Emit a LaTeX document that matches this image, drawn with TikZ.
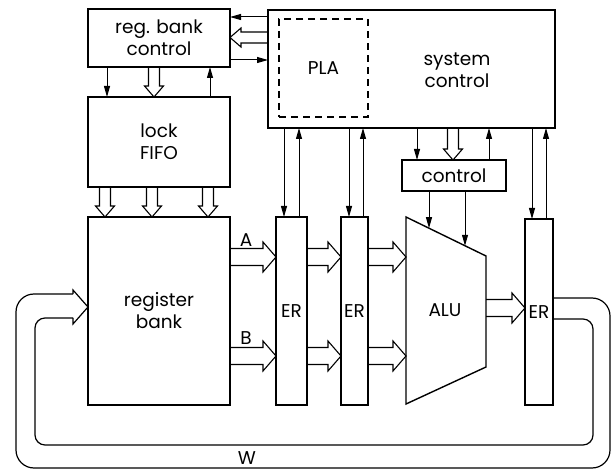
\documentclass[tikz,border=0pt]{standalone}
\usepackage{fontspec}
\setmainfont{Poppins}
\usetikzlibrary{arrows.meta,calc}

\tikzset{
  blk/.style={draw,line width=1.2pt,inner sep=0pt,outer sep=0pt,align=center},
  sig/.style={line width=1pt,-{Triangle[length=11pt,width=6pt]}},
  hollow/.style n args={3}{line width=1.1pt,to path={
     ($(\tikztostart)!#1!90:(\tikztotarget)$)
     -- ($($(\tikztotarget)!#3!(\tikztostart)$)!#1!90:(\tikztotarget)$)
     -- ($($(\tikztotarget)!#3!(\tikztostart)$)!#2!90:(\tikztotarget)$)
     -- (\tikztotarget)
     -- ($($(\tikztotarget)!#3!(\tikztostart)$)!#2!-90:(\tikztotarget)$)
     -- ($($(\tikztotarget)!#3!(\tikztostart)$)!#1!-90:(\tikztotarget)$)
     -- ($(\tikztostart)!#1!-90:(\tikztotarget)$)}},
  bigbus/.style={hollow={8.5pt}{15pt}{13pt}},
  smallbus/.style={hollow={5.5pt}{9.5pt}{11pt}},
}

\begin{document}
\begin{tikzpicture}[x=1pt,y=-1pt,font=\fontsize{18.5}{22}\selectfont]
  \useasboundingbox (0,0) rectangle (611,470);
  % blocks
  \node[blk,minimum width=142pt,minimum height=58pt] (rbctl) at (159,38) {reg. bank\\control};
  \node[blk,minimum width=142pt,minimum height=90pt] (fifo) at (159,142) {lock\\FIFO};
  \node[blk,minimum width=142pt,minimum height=188pt] (regbank) at (159,311) {register\\bank};
  \node[blk,minimum width=287pt,minimum height=118pt] (sys) at (411.5,69) {};
  \node[blk,dash pattern=on 7pt off 5pt,minimum width=89pt,minimum height=98pt] (pla) at (323.5,68) {PLA};
  \node[align=center] (systxt) at (457,70) {system\\control};
  \node[blk,minimum width=104pt,minimum height=31pt] (ctrl) at (454,175.5) {control};
  \node[blk,minimum width=31pt,minimum height=188pt] (er1) at (291.5,311) {ER};
  \node[blk,minimum width=27pt,minimum height=188pt] (er2) at (354.5,311) {ER};
  \node[blk,minimum width=28pt,minimum height=186pt] (er3) at (539,312) {ER};
  % ALU
  \coordinate (alutl) at (406,217);
  \coordinate (alutr) at (486,256);
  \coordinate (alubr) at (486,367);
  \coordinate (alubl) at (406,404);
  \draw[line width=1.4pt] (alutl) -- (alutr) -- (alubr) -- (alubl) -- cycle;
  \node (alu) at (445,310) {ALU};
  % bus levels
  \coordinate (busA) at (0,257);
  \coordinate (busB) at (0,356);
  \coordinate (busR) at (0,308);

  % system control <-> reg. bank control
  \draw[sig] (sys.west |- 0,17) -- (rbctl.east |- 0,17);
  \draw[smallbus] (sys.west |- 0,37.5) to (rbctl.east |- 0,37.5);
  \draw[sig] (rbctl.east |- 0,60) -- (sys.west |- 0,60);
  % reg. bank control <-> lock FIFO
  \draw[sig] (rbctl.south -| 107,0) -- (fifo.north -| 107,0);
  \draw[smallbus] (rbctl.south -| 154,0) to (fifo.north -| 154,0);
  \draw[sig] (fifo.north -| 210,0) -- (rbctl.south -| 210,0);
  % lock FIFO -> register bank
  \foreach \x in {105,152,208}
    \draw[smallbus] (fifo.south -| \x,0) to (regbank.north -| \x,0);

  % data buses A and B
  \foreach \b in {busA,busB} {
    \draw[bigbus] (regbank.east |- \b) to (er1.west |- \b);
    \draw[bigbus] (er1.east |- \b) to (er2.west |- \b);
    \draw[bigbus] (er2.east |- \b) to (alutl |- \b);
  }
  \draw[bigbus] (alutr |- busR) to (er3.west |- busR);
  \node (lA) at (246,240) {A};
  \node (lB) at (246,338) {B};

  % system control <-> ER and control
  \foreach \dn/\up/\t in {284/299/er1, 349/363/er2, 532/546/er3} {
    \draw[sig] (sys.south -| \dn,0) -- (\t.north -| \dn,0);
    \draw[sig] (\t.north -| \up,0) -- (sys.south -| \up,0);
  }
  \draw[sig] (sys.south -| 417,0) -- (ctrl.north -| 417,0);
  \draw[smallbus] (sys.south -| 453,0) to (ctrl.north -| 453,0);
  \draw[sig] (ctrl.north -| 489,0) -- (sys.south -| 489,0);
  % control -> ALU
  \coordinate (alu1) at ($(alutl)!0.2875!(alutr)$);
  \coordinate (alu2) at ($(alutl)!0.7375!(alutr)$);
  \draw[sig] (ctrl.south -| alu1) -- (alu1);
  \draw[sig] (ctrl.south -| alu2) -- (alu2);

  % write-back bus W
  \draw[line width=1.2pt,rounded corners=18pt] (er3.east |- 0,298) -- (610,298) -- (610,468)
    -- (16,468) -- (16,294) -- (73,294);
  \draw[line width=1.2pt] (73,294) -- (73,290) -- (regbank.west |- 0,307) -- (73,324) -- (73,318);
  \draw[line width=1.2pt,rounded corners=10pt] (73,318) -- (35,318) -- (35,445)
    -- (593,445) -- (593,319) -- (er3.east |- 0,319);
  \node (lW) at (247,458) {W};
\end{tikzpicture}
\end{document}
